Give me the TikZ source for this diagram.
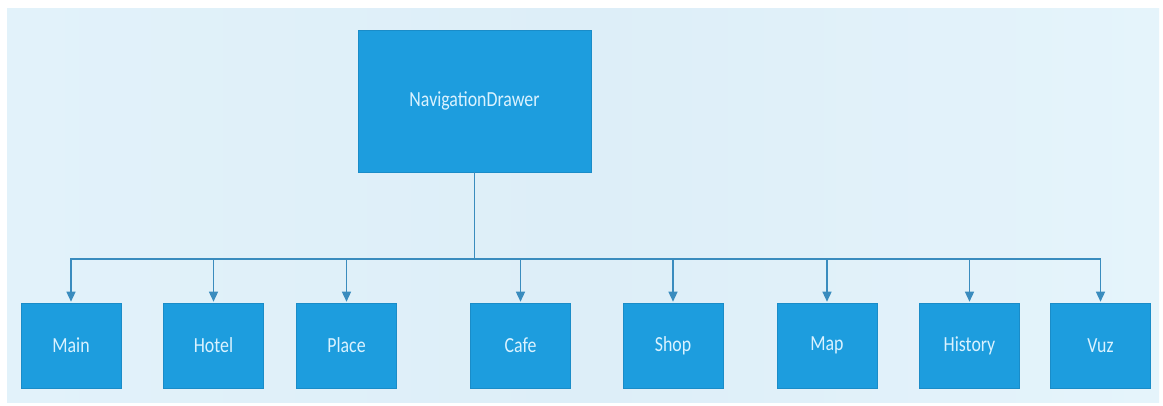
\documentclass[tikz,border=0pt]{standalone}
\usepackage{fontspec}
\usepackage{graphicx}
\setmainfont{Carlito}
\usetikzlibrary{arrows.meta}

\definecolor{boxblue}{RGB}{29,157,222}
\definecolor{boxedge}{RGB}{26,140,200}
\definecolor{labeltext}{RGB}{218,242,255}
\definecolor{wire}{RGB}{58,140,190}
\definecolor{panelA}{RGB}{226,242,250}
\definecolor{panelB}{RGB}{221,238,248}
\definecolor{panelC}{RGB}{229,244,251}

% narrow label text
\newcommand\narrowlabel[1]{\scalebox{0.83}[1]{#1}}

\tikzset{
  pagebox/.style={fill=boxblue, draw=boxedge, line width=0.6pt, inner sep=0pt,
    text=labeltext, font=\fontsize{21.5}{24}\selectfont},
  leafbox/.style={pagebox, minimum width=100pt, minimum height=85pt},
  wireline/.style={draw=wire, line width=1.4pt},
  feed/.style={wireline, -{Triangle[width=9pt,length=10pt]}, shorten >=1pt}
}

\begin{document}
\begin{tikzpicture}[x=1pt, y=-1pt]
  \useasboundingbox (0,0) rectangle (1163,405);
  \fill[white] (0,0) rectangle (1163,405);
  % light panel behind the chart
  \shade[left color=panelA, right color=panelC, middle color=panelB]
    (7,8) rectangle (1159,402);

  % root
  \node[pagebox, minimum width=233pt, minimum height=142pt] (root) at (474.5,101)
    {\narrowlabel{NavigationDrawer}};

  % destinations
  \node[leafbox] (main)    at (71,345.5)    {\narrowlabel{Main}};
  \node[leafbox] (hotel)   at (213.5,345.5) {\narrowlabel{Hotel}};
  \node[leafbox] (place)   at (346.5,345.5) {\narrowlabel{Place}};
  \node[leafbox] (cafe)    at (520.5,345.5) {\narrowlabel{Cafe}};
  \node[leafbox] (shop)    at (673,345.5)   {\narrowlabel{Shop}};
  \node[leafbox] (map)     at (827,345.5)   {\narrowlabel{Map}};
  \node[leafbox] (history) at (969.5,345.5) {\narrowlabel{History}};
  \node[leafbox] (vuz)     at (1100.5,345.5){\narrowlabel{Vuz}};

  % distribution bus
  \coordinate (bus) at (474.5,259);
  \draw[wireline] (root.south) -- (root.south |- bus);
  \draw[wireline, line cap=rect] (main.north |- bus) -- (vuz.north |- bus);
  \foreach \n in {main,hotel,place,cafe,shop,map,history,vuz}
    \draw[feed] (\n.north |- bus) -- (\n.north);
\end{tikzpicture}
\end{document}
